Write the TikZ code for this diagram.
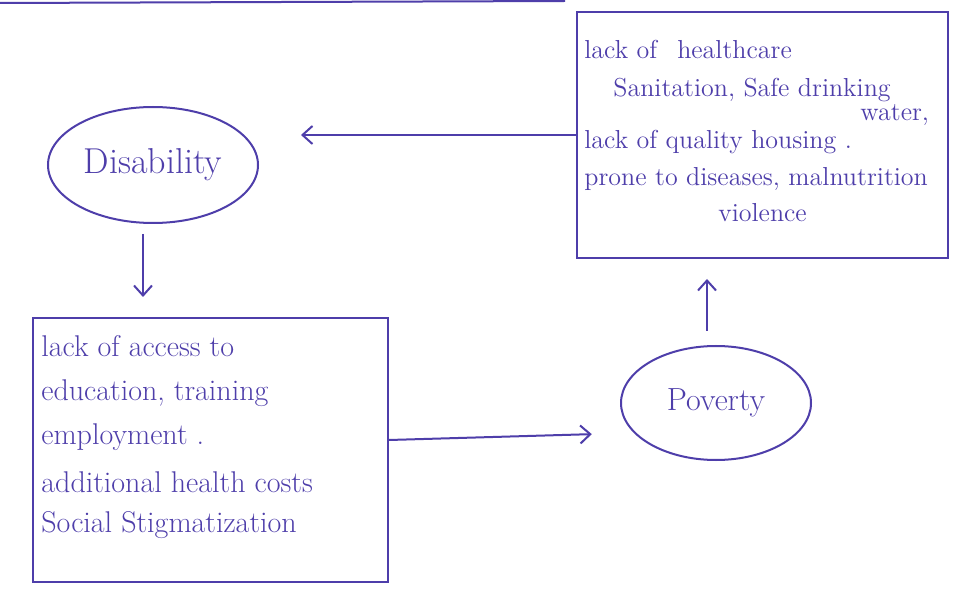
\documentclass[tikz,border=0pt]{standalone}
\usetikzlibrary{arrows.meta,shapes.geometric}
\definecolor{ink}{RGB}{78,62,170}
\begin{document}
\begin{tikzpicture}[x=0.5pt,y=-0.5pt,
  inkline/.style={draw=ink, line width=1pt},
  oval/.style={ellipse, inkline, text=ink, inner sep=0pt},
  boxtext/.style={text=ink, inner sep=0pt, align=left},
  arr/.style={inkline, -{Straight Barb[length=5pt,width=9pt]}}]
\useasboundingbox (0,0) rectangle (959,593);
\fill[white] (0,0) rectangle (959,593);
% stray line of the paper
\draw[inkline] (0,3) -- (565,1);
\node[oval, minimum width=105pt, minimum height=58pt, font=\fontsize{18}{20}\selectfont] (dis) at (153,165) {Disability};
\node[oval, minimum width=95pt, minimum height=57pt, font=\fontsize{16}{18}\selectfont] (pov) at (716,403) {Poverty};
\node[rectangle, inkline, minimum width=177.5pt, minimum height=132pt] (lbox) at (210.5,450) {};
\node[boxtext, anchor=north west, font=\fontsize{15}{22}\selectfont] (ltext) at ([xshift=4.5pt,yshift=-9pt]lbox.north west)
  {lack of access to\\ education, training\\ employment .\\[2pt] additional health costs\\[-2pt] Social Stigmatization};
\node[rectangle, inkline, minimum width=185.5pt, minimum height=123pt] (rbox) at (762.5,135) {};
\node[boxtext, anchor=north west, font=\fontsize{13}{17.5}\selectfont] (rtext) at ([xshift=4pt,yshift=-14.5pt]rbox.north west)
  {lack of\hspace{10pt}healthcare\\[1.5pt]
   \hspace*{14.5pt}Sanitation, Safe drinking\\[-5.5pt]
   \hspace*{138pt}water,\\[-3.5pt]
   lack of quality housing .\\[1pt]
   prone to diseases, malnutrition\\[0.5pt]
   \hspace*{67pt}violence};
\draw[arr, shorten <=5pt, shorten >=10pt] ([xshift=-5pt]dis.south) -- ([xshift=-5pt]dis.south |- lbox.north);
\draw[arr, shorten >=21pt] ([yshift=5pt]lbox.east) -- (pov.200);
\draw[arr, shorten <=7pt, shorten >=10pt] ([xshift=-4.5pt]pov.north) -- ([xshift=-4.5pt]pov.north |- rbox.south);
\draw[arr] (rbox.west) -- ([xshift=21pt]rbox.west -| dis.east);
\end{tikzpicture}
\end{document}
